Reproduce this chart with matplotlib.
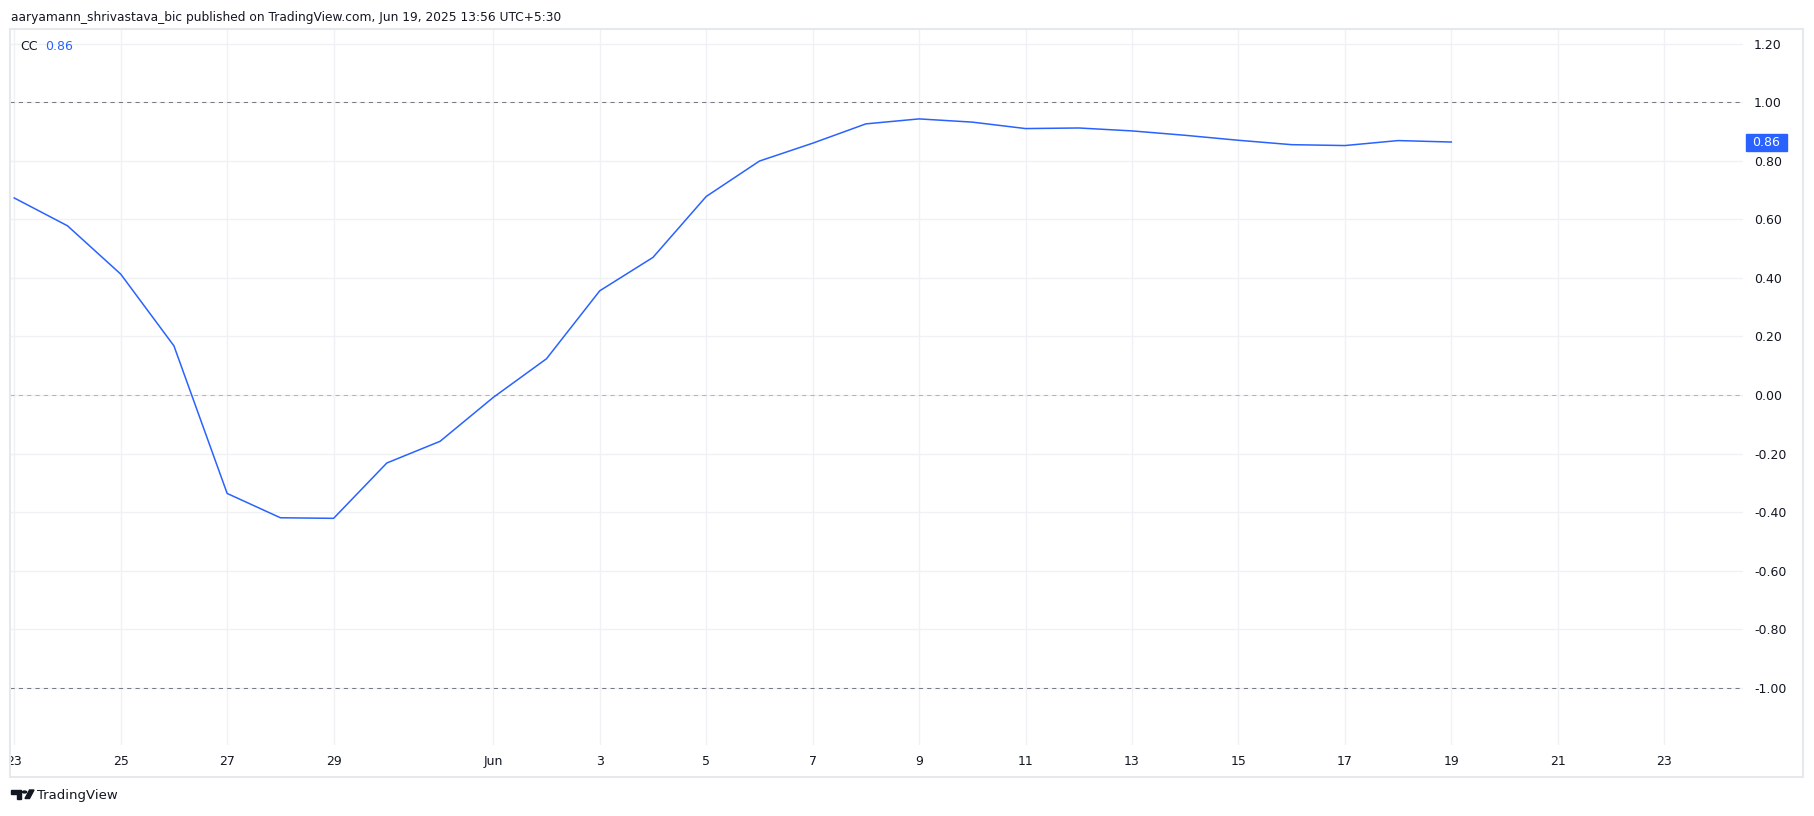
import numpy as np
import matplotlib
matplotlib.use('Agg')
import matplotlib.pyplot as plt
import matplotlib.dates as mdates
from matplotlib.patches import Rectangle, Circle, Polygon
from matplotlib.transforms import blended_transform_factory, Bbox, TransformedBbox

# daily CC values, May 23 - Jun 19 2025
dates = np.arange(np.datetime64('2025-05-23'), np.datetime64('2025-06-20'))
cc = [0.673, 0.578, 0.413, 0.168, -0.336, -0.419, -0.421, -0.232, -0.158,
      -0.008, 0.124, 0.356, 0.470, 0.678, 0.799, 0.860, 0.926, 0.943, 0.932,
      0.910, 0.912, 0.902, 0.887, 0.870, 0.855, 0.852, 0.869, 0.864]

tick_dates = np.array(['2025-05-23', '2025-05-25', '2025-05-27', '2025-05-29',
                       '2025-06-01', '2025-06-03', '2025-06-05', '2025-06-07',
                       '2025-06-09', '2025-06-11', '2025-06-13', '2025-06-15',
                       '2025-06-17', '2025-06-19', '2025-06-21', '2025-06-23'],
                      dtype='datetime64[D]')
tick_labels = ['23', '25', '27', '29', 'Jun', '3', '5', '7', '9', '11', '13',
               '15', '17', '19', '21', '23']
y_ticks = [-1.0, -0.8, -0.6, -0.4, -0.2, 0.0, 0.2, 0.4, 0.6, 0.8, 1.0, 1.2]
levels = [1.0, 0.0, -1.0]
level_colors = ['#787B86', '#B2B5BE', '#787B86']

title = 'aaryamann_shrivastava_bic published on TradingView.com, Jun 19, 2025 13:56 UTC+5:30'

blue = '#2962FF'
txt = '#131722'
plt.rcParams['lines.scale_dashes'] = False

W, H = 1814, 816
fig = plt.figure(figsize=(W / 100, H / 100), dpi=100)
ax = fig.add_axes([10 / W, (H - 745) / H, 1733 / W, 716 / H])

for lv, c in zip(levels, level_colors):
    ax.axhline(lv, color=c, lw=0.75, linestyle=(0, (3, 3)), zorder=2)
ax.plot(dates, cc, color=blue, lw=1.1, zorder=3)

d0 = mdates.date2num(dates[0])
d1 = mdates.date2num(dates[-1])
ax.set_xlim(d0 - 0.08, d1 + 5.48)
ax.set_ylim(-1.195, 1.25)

ax.set_xticks(tick_dates)
ax.set_xticklabels(tick_labels)
ax.yaxis.tick_right()
ax.set_yticks(y_ticks)
ax.set_yticklabels([f'{v:.2f}' for v in y_ticks])
ax.grid(color='#F0F1F4', lw=1, zorder=0)
ax.tick_params(axis='x', length=0, pad=7.5, labelsize=9, labelcolor=txt)
ax.tick_params(axis='y', length=0, pad=8, labelsize=9, labelcolor=txt)
for s in ax.spines.values():
    s.set_visible(False)

# last value badge on the price scale
bt = blended_transform_factory(fig.transFigure, ax.transData)
last = cc[-1]
bh = 17 / 293
ax.add_patch(Rectangle((1746 / W, last - bh / 2), 41 / W, bh, transform=bt,
                       color=blue, clip_on=False, zorder=5))
ax.text(1766.5 / W, last, f'{last:.2f}', transform=bt, ha='center',
        va='center', color='white', fontsize=9, zorder=6)

# outer frame
fig.patches.append(Rectangle((10 / W, 1 - 777 / H), 1793 / W, 748 / H,
                             transform=fig.transFigure, fill=False,
                             ec='#E6E8EC', lw=1.5))

fig.text(11 / W, 1 - 17 / H, title, va='center', ha='left', fontsize=8.8, color=txt)
fig.text(20 / W, 1 - 47 / H, 'CC', va='center', ha='left', fontsize=9, color=txt)
fig.text(45 / W, 1 - 47 / H, f'{last:.2f}', va='center', ha='left', fontsize=9, color=blue)


def P(x, y):
    return (x / W, 1 - y / H)


logo = '#131722'
fig.patches.append(Polygon([P(11, 790), P(21, 790), P(21, 798.5), P(16.5, 798.5),
                            P(16.5, 793.5), P(11, 793.5)], closed=True,
                           transform=fig.transFigure, color=logo))
fig.patches.append(Circle(P(24.5, 792), 2.1 / W, transform=fig.transFigure, color=logo))
fig.patches.append(Polygon([P(25, 798.5), P(29.5, 798.5), P(34, 790), P(29.5, 790)],
                           closed=True, transform=fig.transFigure, color=logo))
fig.text(37 / W, 1 - 795 / H, 'TradingView', va='center', ha='left', fontsize=9.5, color=logo)

fig.canvas.draw()
# clip the first date label at the frame like the original
clip = TransformedBbox(Bbox([[11 / W, 0], [1, 1]]), fig.transFigure)
for t in ax.xaxis.get_major_ticks()[:1]:
    t.label1.set_clip_on(True)
    t.label1.set_clip_box(clip)

fig.savefig('out.png', dpi=100, facecolor='white')
